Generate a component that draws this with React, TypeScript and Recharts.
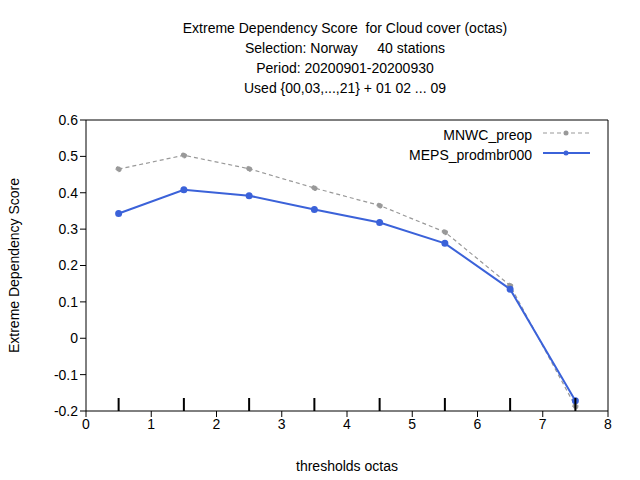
import React from 'react';
import { ComposedChart, Line, Scatter, XAxis, YAxis, ReferenceLine } from 'recharts';

const thresholds = [0.5, 1.5, 2.5, 3.5, 4.5, 5.5, 6.5, 7.5];
const mnwc = [0.465, 0.503, 0.466, 0.413, 0.365, 0.292, 0.145, -0.187];
const meps = [0.343, 0.408, 0.392, 0.354, 0.318, 0.261, 0.135, -0.172];
const xTicks = [0, 1, 2, 3, 4, 5, 6, 7, 8];
const yTicks = [-0.2, -0.1, 0, 0.1, 0.2, 0.3, 0.4, 0.5, 0.6];
const titleLines = [
  'Extreme Dependency Score  for Cloud cover (octas)',
  'Selection: Norway     40 stations',
  'Period: 20200901-20200930',
  'Used {00,03,...,21} + 01 02 ... 09',
];

const data = thresholds.map((x, i) => ({ x, mnwc: mnwc[i], meps: meps[i], base: -0.2 }));
const font = '"Liberation Sans", Arial, sans-serif';

const Tick = (p: any) => (
  <line x1={p.cx} x2={p.cx} y1={p.cy} y2={p.cy - 13} stroke="#000" strokeWidth={2} />
);

export default function App() {
  return (
    <div style={{ position: 'absolute', left: 0, top: 0, width: 640, height: 480, background: '#fff', fontFamily: font }}>
      {titleLines.map((t, i) => (
        <div key={i} style={{ position: 'absolute', top: 20 + i * 20, left: 0, width: 690, textAlign: 'center', fontSize: 14, whiteSpace: 'pre' }}>{t}</div>
      ))}
      <ComposedChart width={640} height={480} data={data} margin={{ top: 120, right: 32, bottom: 0, left: 0 }}>
        <XAxis type="number" dataKey="x" domain={[0, 8]} ticks={xTicks} height={69} tick={{ fill: '#000', fontSize: 14, fontFamily: font }} tickLine={{ stroke: '#000' }} axisLine={{ stroke: '#000' }}
          label={{ value: 'thresholds octas', position: 'insideBottom', offset: 9, fill: '#000', fontSize: 14, fontFamily: font }} />
        <YAxis type="number" domain={[-0.2, 0.6]} ticks={yTicks} width={86} tickFormatter={(v: number) => String(Math.round(v * 10) / 10)} tick={{ fill: '#000', fontSize: 14, fontFamily: font }} tickLine={{ stroke: '#000' }} axisLine={{ stroke: '#000' }}
          label={{ value: 'Extreme Dependency Score', angle: -90, position: 'insideLeft', offset: 14, fill: '#000', fontSize: 14, fontFamily: font, style: { textAnchor: 'middle' } }} />
        <ReferenceLine y={0.6} stroke="#000" />
        <ReferenceLine x={8} stroke="#000" />
        <Line dataKey="mnwc" stroke="#999" strokeDasharray="4 3" strokeWidth={1.2} dot={{ r: 2.5, fill: '#999', stroke: '#999' }} isAnimationActive={false} />
        <Line dataKey="meps" stroke="#3b62d9" strokeWidth={2} dot={{ r: 2.5, fill: '#3b62d9', stroke: '#3b62d9' }} isAnimationActive={false} />
        <Scatter dataKey="base" shape={Tick} isAnimationActive={false} />
      </ComposedChart>
      <div style={{ position: 'absolute', top: 125, left: 330, width: 202, textAlign: 'right', fontSize: 14, lineHeight: '20px' }}>
        <div>MNWC_preop</div>
        <div>MEPS_prodmbr000</div>
      </div>
      <svg style={{ position: 'absolute', top: 125, left: 540 }} width={56} height={40}>
        <line x1={3} x2={50} y1={8} y2={8} stroke="#999" strokeDasharray="4 3" strokeWidth={1.2} />
        <circle cx={26} cy={8} r={2.5} fill="#999" />
        <line x1={3} x2={50} y1={28} y2={28} stroke="#3b62d9" strokeWidth={2} />
        <circle cx={26} cy={28} r={2.5} fill="#3b62d9" />
      </svg>
    </div>
  );
}
